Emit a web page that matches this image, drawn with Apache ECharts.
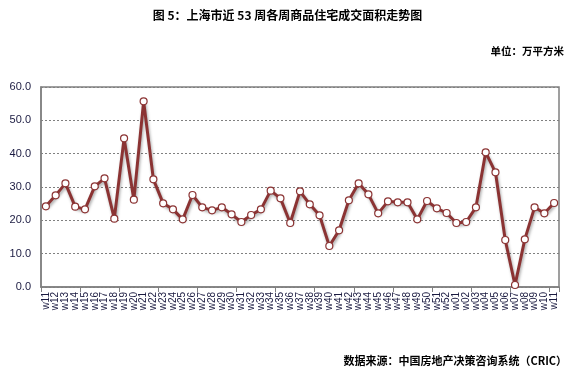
<!DOCTYPE html>
<html><head><meta charset="utf-8">
<script src="https://cdn.jsdelivr.net/npm/echarts@6/dist/echarts.min.js"></script>
<style>html,body{margin:0;padding:0;background:#fff}#c{width:575px;height:373px}</style>
</head><body><div id="c"></div>
<script>
const weeks = ['w11','w12','w13','w14','w15','w16','w17','w18','w19','w20','w21','w22','w23','w24','w25','w26','w27','w28','w29','w30','w31','w32','w33','w34','w35','w36','w37','w38','w39','w40','w41','w42','w43','w44','w45','w46','w47','w48','w49','w50','w51','w52','w01','w02','w03','w04','w05','w06','w07','w08','w09','w10','w11'];
const area = [24.2,27.5,31.1,24.1,23.3,30.2,32.6,20.5,44.6,26.2,55.7,32.3,25.1,23.3,20.3,27.6,23.9,23.0,23.9,21.8,19.5,21.6,23.3,28.9,26.6,19.2,28.7,24.8,21.5,12.3,17.0,26.0,31.1,27.8,22.1,25.7,25.4,25.4,20.3,25.8,23.6,22.2,19.2,19.5,23.9,40.4,34.4,14.1,0.6,14.3,23.9,22.1,25.2];
const yMin = 0, yMax = 60, yStep = 10;
const titleText = '图 5：上海市近 53 周各周商品住宅成交面积走势图';
const unitText = '单位：万平方米';
const sourceText = '数据来源：中国房地产决策咨询系统（CRIC）';

const chart = echarts.init(document.getElementById('c'));
const font = '"Microsoft YaHei","Noto Sans CJK SC",sans-serif';
chart.setOption({
  animation: false,
  backgroundColor: '#fff',
  title: [
    {text: titleText, left: 'center', top: 4, textStyle: {fontSize: 12, fontWeight: 'bold', color: '#000', fontFamily: font}},
    {text: unitText, right: 6, top: 41, textStyle: {fontSize: 10.5, fontWeight: 'bold', color: '#000', fontFamily: font}},
    {text: sourceText, right: 3, top: 350, textStyle: {fontSize: 11, fontWeight: 'bold', color: '#000', fontFamily: font}}
  ],
  grid: {left: 41, right: 16, top: 87, bottom: 86, show: true, borderColor: '#808080', borderWidth: 1.5},
  xAxis: {
    type: 'category', data: weeks, boundaryGap: true,
    axisLine: {lineStyle: {color: '#808080', width: 1.5}},
    axisTick: {show: true, interval: 3, length: 5, lineStyle: {color: '#808080'}},
    axisLabel: {interval: 0, rotate: 90, fontSize: 10, color: '#1a1a40', fontFamily: 'Arial, "Liberation Sans", sans-serif', margin: 5}
  },
  yAxis: {
    type: 'value', min: yMin, max: yMax, interval: yStep,
    axisLine: {show: true, lineStyle: {color: '#808080', width: 1.5}},
    axisTick: {show: false},
    splitLine: {show: true, lineStyle: {color: '#808080', type: [2, 2], width: 1}},
    axisLabel: {formatter: v => v.toFixed(1), fontSize: 11, color: '#1a1a40', fontFamily: 'Arial, "Liberation Sans", sans-serif', margin: 10}
  },
  series: [{
    type: 'line', data: area,
    symbol: 'circle', symbolSize: 7,
    lineStyle: {color: '#8B3333', width: 3, shadowColor: 'rgba(0,0,0,0.35)', shadowBlur: 3, shadowOffsetX: 1, shadowOffsetY: 2},
    itemStyle: {color: '#fff', borderColor: '#8B3333', borderWidth: 1.2}
  }]
});
</script></body></html>
